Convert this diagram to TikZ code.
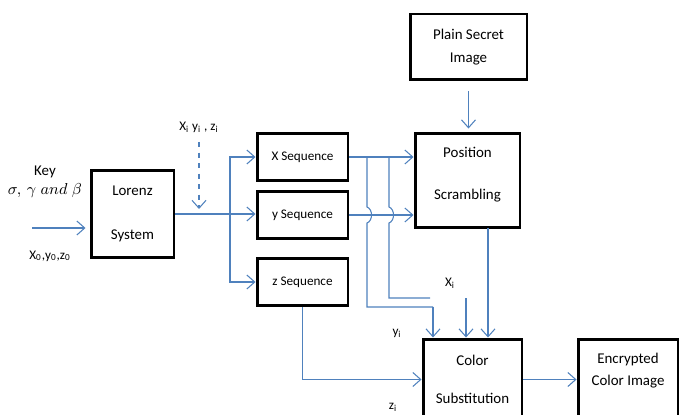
\documentclass[tikz,border=0pt]{standalone}
\usepackage{fontspec}
\setmainfont{Carlito}
\usetikzlibrary{arrows.meta}
\definecolor{linkblue}{RGB}{79,129,189}

\begin{document}
\begin{tikzpicture}[x=0.02cm,y=-0.02cm,
   box/.style={draw,line width=1.7pt,align=center,inner sep=0pt,
               font=\fontsize{8.5}{10.5}\selectfont},
   seqbox/.style={box,minimum width=1.82cm,minimum height=0.94cm,
               font=\fontsize{7.5}{9}\selectfont},
   link/.style={draw=linkblue,line width=0.6pt},
   arr/.style={link,-{Straight Barb[length=4.5pt,width=8pt]}},
   lbl/.style={font=\fontsize{7.5}{9}\selectfont,inner sep=1pt}]
   \useasboundingbox (0,0) rectangle (685,415);
   % blocks
   \node[box,minimum width=1.66cm,minimum height=1.76cm] (lorenz) at (132.5,214)
        {Lorenz\\[15pt]System};
   \node[seqbox] (xseq) at (302.5,157) {X Sequence};
   \node[seqbox] (yseq) at (302.5,215) {y Sequence};
   \node[seqbox] (zseq) at (302.5,282) {z Sequence};
   \node[box,minimum width=2.34cm,minimum height=1.32cm] (plain) at (468.5,47)
        {Plain Secret\\[3pt]Image};
   \node[box,minimum width=2.1cm,minimum height=1.9cm,text depth=8pt] (pos) at (467.5,180.5)
        {Position\\[13pt]Scrambling};
   \node[box,minimum width=1.98cm,minimum height=1.62cm] (color) at (472.5,379.5)
        {Color\\[11pt]Substitution};
   \node[box,minimum width=2.0cm,minimum height=1.62cm,text depth=12pt] (enc) at (628,379.5)
        {Encrypted\\[2pt]Color Image};
   % labels
   \node[lbl,font=\fontsize{8.5}{10}\selectfont] (key) at (45,172) {Key};
   \node[lbl,font=\fontsize{9}{10}\selectfont] (params) at (45,191) {$\sigma,\,\gamma\;and\;\beta$};
   \node[lbl] (init) at (50,256) {X\textsubscript{0},y\textsubscript{0},z\textsubscript{0}};
   \node[lbl] (seed) at (199,127) {X\textsubscript{i} y\textsubscript{i} , z\textsubscript{i}};
   \node[lbl] (xi) at (450,283) {X\textsubscript{i}};
   \node[lbl] (yi) at (397,333) {y\textsubscript{i}};
   \node[lbl] (zi) at (393,407) {z\textsubscript{i}};
   % free ends
   \coordinate (keyin) at (32,228);
   \coordinate (seedtop) at (199,142);
   \coordinate (seedbot) at (199,209);
   \coordinate (br) at (230,214);
   \coordinate (ytap) at (367,157);
   \coordinate (xtap) at (389,157);
   \coordinate (xiend) at (430,298);
   \coordinate (xitop) at (466,298);
   \coordinate (yidrop) at (433,307);
   \coordinate (posout) at (488,228);
   % connectors
   \draw[arr,shorten >=0.08cm] (keyin) -- (keyin -| lorenz.west);
   \draw[arr,dashed] (seedtop) -- (seedbot);
   \draw[arr] (lorenz.east) -- (lorenz.east -| yseq.west);
   \draw[arr] (br) |- (xseq.west);
   \draw[arr] (br) |- (zseq.west);
   \draw[arr,shorten <=0.2cm,shorten >=0.06cm] (plain.south) -- (plain.south |- pos.north);
   \draw[arr] (xseq.east) -- (xseq.east -| pos.west);
   \draw[arr] (yseq.east) -- (yseq.east -| pos.west);
   \draw[link] (xtap) -- (389,207) .. controls (395,209) and (395,221) .. (389,223)
        -- (389,298) -- (xiend);
   \draw[arr] (xitop) -- (xitop |- color.north);
   \draw[link] (ytap) -- (367,207) .. controls (373,209) and (373,221) .. (367,223)
        -- (367,307) -- (yidrop);
   \draw[arr] (yidrop) -- (yidrop |- color.north);
   \draw[arr] (posout) -- (posout |- color.north);
   \draw[arr] (zseq.south) |- (color.west);
   \draw[arr] (color.east) -- (enc.west);
\end{tikzpicture}
\end{document}
